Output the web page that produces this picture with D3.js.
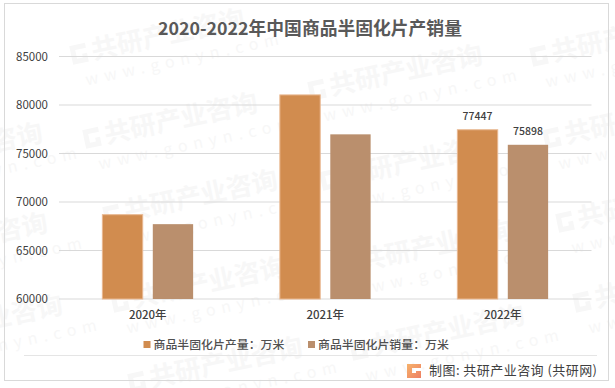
<!DOCTYPE html>
<html><head><meta charset="utf-8">
<script src="https://cdn.jsdelivr.net/npm/d3@7/dist/d3.min.js"></script>
<style>html,body{margin:0;padding:0;background:#fff}svg{display:block}text{font-family:"Noto Sans CJK SC","Noto Sans",sans-serif}</style>
</head><body><svg id="c" width="615" height="388"></svg>
<script>
const categories = ["2020年","2021年","2022年"];
const seriesNames = ["商品半固化片产量：万米","商品半固化片销量：万米"];
const output = [68693,81040,77447];
const sales = [67716,76975,75898];
const shownLabels = ["2022年"];
const yTicks = [60000,65000,70000,75000,80000,85000];
const title = "2020-2022年中国商品半固化片产销量";
const credit = "制图: 共研产业咨询 (共研网)";
const colors = ["#d18c4f","#ba8f6d"];
const watermarkAnchors = [[72,64],[85,148],[310,100],[532,66],[-130,178],[545,148],[322,190],[105,225],[340,275],[-125,268],[113,312],[558,232],[-110,350],[575,312],[352,360],[130,392]];

const svg = d3.select("#c");
const m = {l:59, r:591.5, t:56.5, b:299};
const x0 = d3.scaleBand().domain(categories).range([m.l,m.r]);
const x1 = d3.scaleBand().domain([0,1]).range([0,x0.bandwidth()]).paddingInner(0.2).paddingOuter(0.86);
const y = d3.scaleLinear().domain([60000,85000]).range([m.b,m.t]);

// watermark
const wm = svg.append("g").selectAll("g").data(watermarkAnchors).join("g")
  .attr("transform", d=>`translate(${d[0]},${d[1]}) rotate(-12)`);
wm.append("path").attr("d","M1,-18H17V-13H6V-4H12V-8H17V1H1Z").attr("fill","#f7f7f7");
wm.append("text").attr("x",22).attr("font-size",26).attr("font-weight",700).attr("fill","#f7f7f7").text("共研产业咨询");
wm.append("text").attr("x",10).attr("y",24).attr("font-size",16).attr("letter-spacing",6).attr("fill","#f7f7f7").text("www.gonyn.com");

// frame
svg.append("rect").attr("x",4.5).attr("y",3.5).attr("width",604).attr("height",377).attr("fill","none").attr("stroke","#d9d9d9");

// grid and axis
const yAxis = d3.axisLeft(y).tickValues(yTicks).tickSize(0).tickPadding(11).tickFormat(d3.format("d"));
const ya = svg.append("g").attr("transform",`translate(${m.l},0)`).call(yAxis);
ya.select(".domain").remove();
ya.selectAll("text").attr("font-size",11.5).attr("fill","#404040");
svg.append("g").selectAll("line").data(yTicks).join("line")
  .attr("x1",m.l).attr("x2",m.r).attr("y1",d=>y(d)).attr("y2",d=>y(d))
  .attr("stroke","#d9d9d9").attr("stroke-width",1);

const xAxis = d3.axisBottom(x0).tickSize(0).tickPadding(12);
const xa = svg.append("g").attr("transform",`translate(0,${m.b})`).call(xAxis);
xa.select(".domain").remove();
xa.selectAll("text").attr("font-size",11.5).attr("font-weight",500).attr("fill","#404040");

// bars
const seriesValues = [output,sales];
seriesValues.forEach((vals,s)=>{
  svg.append("g").selectAll("rect").data(vals).join("rect")
    .attr("x",(d,i)=>x0(categories[i])+x1(s))
    .attr("width",x1.bandwidth())
    .attr("y",d=>y(d))
    .attr("height",d=>m.b-y(d))
    .attr("fill",colors[s])
    .attr("stroke",s===0?"#e9b891":"none");
  svg.append("g").selectAll("text").data(vals).join("text")
    .filter((d,i)=>shownLabels.includes(categories[i]))
    .attr("x",(d)=>x0(shownLabels[0])+x1(s)+x1.bandwidth()/2)
    .attr("y",d=>y(d)-10)
    .attr("text-anchor","middle").attr("font-size",10.5).attr("font-weight",500).attr("fill","#404040")
    .text(d=>d);
});

// title
svg.append("text").attr("x",310).attr("y",35).attr("text-anchor","middle")
  .attr("font-size",17.8).attr("font-weight",700).attr("fill","#595959").text(title);

// legend
const legendX = [143.5,308];
seriesNames.forEach((n,i)=>{
  svg.append("rect").attr("x",legendX[i]).attr("y",341).attr("width",7).attr("height",7).attr("fill",colors[i]);
  svg.append("text").attr("x",legendX[i]+10).attr("y",349).attr("font-size",11.9).attr("font-weight",500).attr("fill","#505050").text(n);
});

// footer
svg.append("line").attr("x1",24).attr("x2",597).attr("y1",355.5).attr("y2",355.5).attr("stroke","#e5e5e5");
const defs = svg.append("defs").append("linearGradient").attr("id","lg").attr("x1",0).attr("x2",1).attr("y1",0).attr("y2",1);
defs.append("stop").attr("offset",0).attr("stop-color","#f6b26b");
defs.append("stop").attr("offset",1).attr("stop-color","#ee7f63");
svg.append("path").attr("d","M407,364H421V368H412V373H416V371H421V378H407Z").attr("fill","url(#lg)");
svg.append("text").attr("x",429).attr("y",375).attr("font-size",13).attr("letter-spacing",0.45).attr("fill","#404040").text(credit);
</script></body></html>
